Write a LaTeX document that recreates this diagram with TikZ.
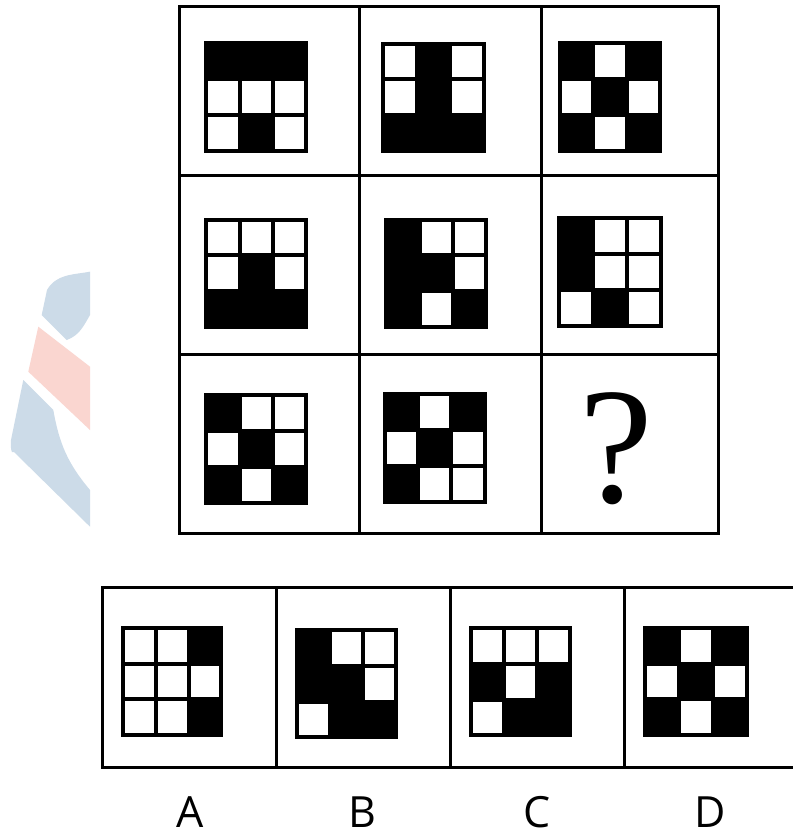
\documentclass[tikz,border=0pt]{standalone}
\usepackage{fontspec}
\setmainfont{Liberation Serif}
\newfontfamily\labfont{Open Sans}
\definecolor{wmblue}{RGB}{204,219,232}
\definecolor{wmpink}{RGB}{250,214,208}
\tikzset{
  gridline/.style={line width=3pt, black},
  optlabel/.style={font=\labfont\fontsize{43}{43}\selectfont, inner sep=0pt, anchor=base},
  qmark/.style={font=\fontsize{166}{166}\selectfont, inner sep=0pt}
}
% \patt{x0}{y0}{W}{H}{nine cells, 1 = black, 0 = white}
\newcommand{\patt}[5]{%
  \fill[black] (#1,#2) rectangle ++(#3,#4);
  \pgfmathsetmacro{\pw}{(#3-4)/3}%
  \pgfmathsetmacro{\ph}{(#4-4)/3}%
  \foreach \v [count=\k from 0] in {#5}{%
    \ifnum\v=0
      \pgfmathtruncatemacro{\ci}{mod(\k,3)}%
      \pgfmathtruncatemacro{\cj}{div(\k,3)}%
      \fill[white] ({#1+4+\ci*\pw},{#2+4+\cj*\ph}) rectangle ++({\pw-4},{\ph-4});
    \fi
  }%
}
\begin{document}
\begin{tikzpicture}[x=1pt,y=-1pt]
\useasboundingbox (0,0) rectangle (793,836);
\fill[white] (0,0) rectangle (793,836);
% watermark
\fill[wmblue] (41.7,315) -- (47,290) to[out=60,in=190] (90,271.7) -- (90,315) to[out=240,in=20] (66.7,340) -- cycle;
\fill[wmpink] (38.3,326.7) -- (90,366.7) -- (90,430) -- (28.3,371.7) -- cycle;
\fill[wmblue] (23.3,380) -- (53.3,410) to[out=-80,in=130] (90,490) -- (90,526.7) -- (14,452) to[out=225,in=-95] (11,440) -- cycle;
% main grid
\draw[gridline] (179.5,6) rectangle (718,533);
\draw[gridline] (359.5,6) -- (359.5,533);
\draw[gridline] (541,6) -- (541,533);
\draw[gridline] (179.5,175) -- (718,175);
\draw[gridline] (179.5,354) -- (718,354);
% row 1
\patt{204.3}{40.7}{104}{112}{1,1,1,0,0,0,0,1,0}
\patt{381}{41.7}{105}{111}{0,1,0,0,1,0,1,1,1}
\patt{558}{40.7}{104}{112}{1,0,1,0,1,0,1,0,1}
% row 2
\patt{204.3}{217.7}{104}{111}{0,0,0,0,1,0,1,1,1}
\patt{384.3}{217.7}{104}{111}{1,0,0,1,1,0,1,0,1}
\patt{557}{216}{106}{112}{1,0,0,1,0,0,0,1,0}
% row 3
\patt{204.3}{393}{104}{112}{1,0,0,0,1,0,1,0,1}
\patt{382.7}{391.7}{104}{112}{1,0,1,0,1,0,1,0,0}
\node[qmark] (q) at (616,449) {?};
% options
\draw[gridline] (793,587.5) -- (102.3,587.5) -- (102.3,767.5) -- (793,767.5);
\draw[gridline] (276,587.5) -- (276,767.5);
\draw[gridline] (450,587.5) -- (450,767.5);
\draw[gridline] (624.3,587.5) -- (624.3,767.5);
\patt{121}{626}{102.3}{110.7}{0,0,1,0,0,0,0,0,1}
\patt{295}{628.3}{102.7}{111}{1,0,0,1,1,0,0,1,1}
\patt{469.3}{626}{103}{111.3}{0,0,0,1,0,1,0,1,1}
\patt{642.7}{626}{106}{111}{1,0,1,0,1,0,1,0,1}
\node[optlabel] (la) at (190,827) {A};
\node[optlabel] (lb) at (362,827) {B};
\node[optlabel] (lc) at (537,827) {C};
\node[optlabel] (ld) at (710,827) {D};
\end{tikzpicture}
\end{document}
